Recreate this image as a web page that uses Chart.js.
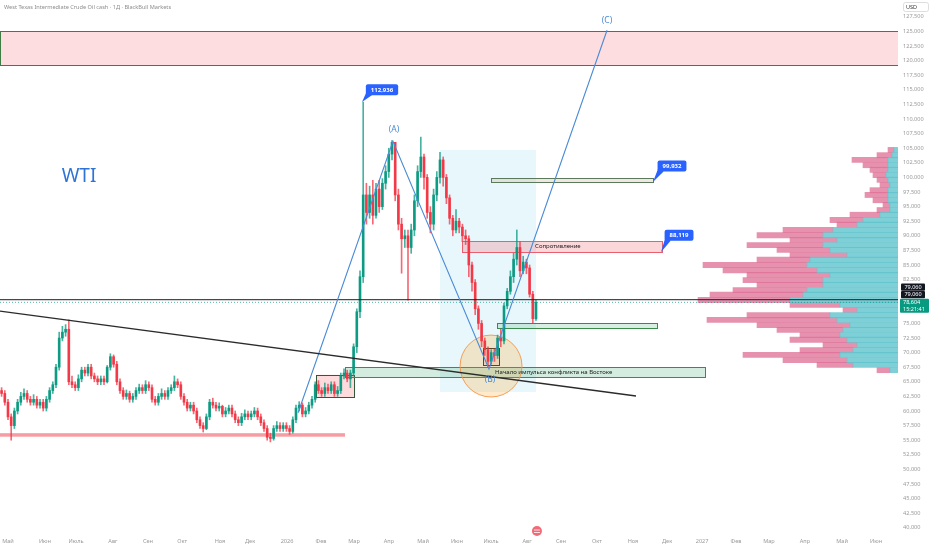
<!DOCTYPE html>
<html>
<head>
<meta charset="utf-8">
<script src="https://cdn.jsdelivr.net/npm/chart.js@4.4.1/dist/chart.umd.min.js"></script>
<style>
  html, body { margin: 0; padding: 0; background: #fff; }
  #wrap { position: relative; width: 932px; height: 550px; }
</style>
</head>
<body>
<div id="wrap"><canvas id="c"></canvas></div>
<script>
// x unit = trading-day bar index, candles every 2 bars
const monthLabels = ['Май','Июн','Июль','Авг','Сен','Окт','Ноя','Дек','2026','Фев','Мар','Апр','Май','Июн','Июль','Авг','Сен','Окт','Ноя','Дек','2027','Фев','Мар','Апр','Май','Июн'];
const monthPos = [5,28.1,47.5,70.6,92.5,113.8,137.5,156.3,179.4,200.6,221.3,243.1,264.4,285.6,306.9,329.4,350.6,373.1,395.6,416.9,438.8,460,480.6,503.1,526.3,547.5];
const yTicks = [40,42.5,45,47.5,50,52.5,55,57.5,60,62.5,65,67.5,70,72.5,75,82.5,85,87.5,90,92.5,95,97.5,100,102.5,105,107.5,110,112.5,115,117.5,120,122.5,125,127.5];

const firstOpen = 63.5;
const closes = [63,61.5,59,57.5,60,61.5,62.5,63,62,61.5, 62,61,61.5,60.5,62,63.5,64.5,67.5,72.5,73.5,
  74,65,64.5,64,65.5,67,66.5,67.5,66,65.5, 65,65.5,65,67.5,69.3,68,65,63.5,62.5,63,
  62,62.5,63.5,64,63.5,64.5,64,62,61.5,62.5, 63,62.5,63.5,64,65,64.5,62.5,61.5,60.5,61,
  60,58.5,57.5,57,59,61.5,61,60.5,60.8,59.5, 60,60.5,59.5,58.5,58,59,59.5,59,59.5,60,
  59,58,57,55.5,55.3,57,57.5,57,57.5,57, 56.5,58.5,60.5,61,59.5,60,61,62,64.5,63.5,
  63,64,63.5,64.5,63,63.5,66,66.5,65.5,66.5, 71,77,83,97,94,97,93.5,98,95,99,
  101,104,106,97,92,89.5,90,88,91,96, 101,103.5,100,94,92,97,100,103,100,96.5,
  93,91,92.5,91.5,90,89.5,85,82,77.5,75, 72,70.5,68.5,70,69.5,72.5,72,78,80.5,83,
  86,88,84,85.5,84.5,80,75.8,78.6];
const highs = [64,63.5,62,59.5,60.5,62,63.2,63.8,63.5,62.5, 62.8,62.5,62,62,62.5,64,65,68,73.5,74.5,
  74.8,75.6,66,65,66.2,67.5,67.5,68,68,66.5, 66,66,66,67.8,69.8,69.6,68.5,65.5,64,63.6,
  63.4,63,64,64.6,64.5,65.2,65,64.5,62.5,63, 63.8,63.5,64,64.5,66,65.5,65,63,62,61.5,
  61.5,60.5,59,58,59.5,62,62.2,61.5,61.4,61, 60.6,61,61,60,59,59.6,60.2,60,60,60.6,
  60.5,59.5,58.5,57.5,56.2,57.5,58.2,58,58,58, 57.5,59,61,61.6,61.4,60.6,61.5,62.5,65,65.2,
  64,64.8,64.6,65,65,64.2,66.5,67.2,67,67, 71.5,77.5,84,112.9,99,98.5,99.5,99,99.5,99.8,
  102,105,106.3,106,98,93,91,91,92,97, 102,106.9,104,100.5,95,98,101,104.3,103.5,100.5,
  97,93.5,94.5,93,92,91,90,85.5,82.5,78, 75.5,72.5,71,70.5,70.6,73,74,78.5,81,84,
  87,91,89,86.5,86,85,80.5,79];
const lows = [62.5,61,58.5,55,57,59.5,61,62,61.5,61, 61,60.5,60.5,60,60,61.5,63,64,67,72,
  72.8,64.5,64,63.5,63.5,65,66,66,65.5,65, 64.5,64.5,64.5,64.8,67,67.5,64.5,63,62,62,
  61.5,61.5,62,63,63,63,63.5,61.5,61,61, 62,62,62,63,63.5,64,62,61,60,60,
  59.5,58,57,56.4,56.8,58.5,60.5,60,60,59, 59,59.5,59,58,57.5,57.5,58.5,58.5,58.5,59,
  58.5,57.5,56.5,55,54.7,55,56.5,56.5,56.5,56.5, 56,56.2,58,60,59,59,59.5,60.5,61.5,63,
  62.5,62.5,63,63,62.5,62.5,63,65.5,65,64, 66,70,76,82,92,93,92,93,94,94.5,
  98,100,103,96,91,83.6,88,79,87,90, 95,100,98,93,90.5,91,96,99,98.5,95.5,
  92,90,90.5,90.5,89,88.5,83,80.5,76.5,74, 71,69.5,67.4,68,68.5,69,71,71.5,77.5,80,
  82,85,83,83.5,83.5,79.5,75,75.5];

// visible-range volume profile rows
const vpPrice = [104.7,103.8,103.0,102.1,101.3,100.4,99.6,98.7,97.8,97.0,96.1,95.3,94.4,93.6,92.7,91.9,91.0,90.1,89.3,88.4,87.6,86.7,85.9,85.0,84.1,83.3,82.4,81.6,80.7,79.9,79.0,78.2,77.3,76.4,75.6,74.7,73.9,73.0,72.2,71.3,70.4,69.6,68.7,67.9,67.0];
const vpUp = [4,6,10,10,10,12,10,8,10,10,10,8,8,18,35,41,65,75,61,75,68,51,88,91,81,68,75,75,91,95,108,58,41,68,61,48,55,58,51,41,45,58,51,45,8];
const vpTotal = [10,21,46,35,28,25,21,18,28,33,25,15,21,48,68,61,115,141,108,151,121,108,141,195,175,151,155,141,165,188,200,108,55,151,191,141,121,98,108,75,98,155,115,81,21];

const trendLine = [{x:0, y:77.1}, {x:397.5, y:62.57}];
const wavePts = [{x:186.3, y:59.7}, {x:245.6, y:106.2}, {x:305.6, y:67.2}, {x:379.4, y:125.2}];
const linePrice = 79.06;
const lastPrice = 78.604;
const X_MAX = 561.25;

const boxes = [
  {x0:0, x1:X_MAX, y0:119.1, y1:125.0, fill:'rgba(242,54,69,0.17)', stroke:'#3f7d46'},
  {x0:275, x1:335, y0:63.25, y1:104.7, fill:'rgba(0,170,220,0.09)'},
  {x0:0, x1:215.6, y0:55.6, y1:56.2, fill:'rgba(240,90,100,0.6)'},
  {x0:197.5, x1:221.25, y0:62.4, y1:66.2, fill:'rgba(242,54,69,0.18)', stroke:'#34573a'},
  {x0:215.6, x1:440.6, y0:65.8, y1:67.5, fill:'rgba(60,170,110,0.22)', stroke:'#3d8b4a', text:'Начало импульса конфликта на Востоке', tx:309.4},
  {x0:310.6, x1:410.6, y0:74.2, y1:75.07, fill:'rgba(60,170,110,0.2)', stroke:'#3d8b4a'},
  {x0:288.75, x1:413.75, y0:87.2, y1:89.1, fill:'rgba(242,54,69,0.2)', stroke:'#e8606e', text:'Сопротивление', tx:334.4},
  {x0:306.9, x1:408.1, y0:99.2, y1:99.9, fill:'rgba(190,140,120,0.22)', stroke:'#5b7a5b'},
  {x0:302, x1:312, y0:67.9, y1:70.8, fill:'rgba(242,54,69,0.12)', stroke:'#333'}
];
const circle = {x:306.9, y:67.7, r:5.3};
const texts = [
  {x:49.4, y:100.2, text:'WTI', size:19, color:'#2e74d6'},
  {x:246.3, y:108.2, text:'(A)', size:8.5, color:'#4a8bd6'},
  {x:306.3, y:65.3, text:'(B)', size:8.5, color:'#4a8bd6'},
  {x:379.4, y:126.8, text:'(C)', size:8.5, color:'#4a8bd6'}
];
const callouts = [
  {ax:226.25, ay:112.9, cx:238.75, cy:115.0, text:'112,936'},
  {ax:408.1, ay:99.2, cx:420, cy:101.95, text:'99,932'},
  {ax:413.1, ay:87.2, cx:424.4, cy:90.1, text:'88,119'}
];

const fmt = v => v.toFixed(3).replace('.', ',');
const candles = closes.map((c, i) => {
  const o = i === 0 ? firstOpen : closes[i - 1];
  return {x: 2 * i + 1, o, h: highs[i], l: lows[i], c};
});
const upCol = 'rgba(8,153,129,0.95)', dnCol = 'rgba(242,54,69,0.95)';
const upWick = 'rgba(8,153,129,0.75)', dnWick = 'rgba(242,54,69,0.75)';

function rrect(ctx, x, y, w, h, r) {
  ctx.beginPath();
  if (ctx.roundRect) ctx.roundRect(x, y, w, h, r); else ctx.rect(x, y, w, h);
}
// keep the axes from reserving label overhang around the plot
const noPad = s => { s.paddingLeft = 0; s.paddingRight = 0; s.paddingTop = 0; s.paddingBottom = 0; };

const annot = {
  id: 'annot',
  beforeDatasetsDraw(chart) {
    const ctx = chart.ctx, sx = chart.scales.x, sy = chart.scales.y, a = chart.chartArea;
    ctx.save();
    ctx.beginPath(); ctx.rect(a.left, a.top, a.right - a.left, a.bottom - a.top); ctx.clip();
    boxes.forEach(b => {
      const l = sx.getPixelForValue(b.x0), r = sx.getPixelForValue(b.x1);
      const t = sy.getPixelForValue(b.y1), bt = sy.getPixelForValue(b.y0);
      ctx.fillStyle = b.fill;
      ctx.fillRect(l, t, r - l, bt - t);
      if (b.stroke) {
        ctx.strokeStyle = b.stroke; ctx.lineWidth = 1;
        ctx.strokeRect(Math.round(l) + 0.5, Math.round(t) + 0.5, Math.round(r - l), Math.round(bt - t));
      }
    });
    const cx = sx.getPixelForValue(circle.x), cy = sy.getPixelForValue(circle.y);
    const r = Math.abs(sy.getPixelForValue(circle.y + circle.r) - cy);
    ctx.beginPath(); ctx.arc(cx, cy, r, 0, Math.PI * 2);
    ctx.fillStyle = 'rgba(255,152,0,0.2)'; ctx.fill();
    ctx.strokeStyle = 'rgba(245,150,70,0.9)'; ctx.lineWidth = 1; ctx.stroke();
    ctx.restore();
  },
  afterDatasetsDraw(chart) {
    const ctx = chart.ctx, sx = chart.scales.x, sy = chart.scales.y, a = chart.chartArea;
    ctx.save();
    ctx.textBaseline = 'middle';
    boxes.forEach(b => {
      if (!b.text) return;
      ctx.font = '6px "Noto Sans"'; ctx.fillStyle = '#222'; ctx.textAlign = 'left';
      ctx.fillText(b.text, sx.getPixelForValue(b.tx), sy.getPixelForValue((b.y0 + b.y1) / 2));
    });
    texts.forEach(t => {
      ctx.font = t.size + 'px "Noto Sans"'; ctx.fillStyle = t.color; ctx.textAlign = 'center';
      ctx.fillText(t.text, sx.getPixelForValue(t.x), sy.getPixelForValue(t.y));
    });
    callouts.forEach(c => {
      const ax = sx.getPixelForValue(c.ax), ay = sy.getPixelForValue(c.ay);
      const cx = sx.getPixelForValue(c.cx), cy = sy.getPixelForValue(c.cy);
      ctx.font = 'bold 6px "Noto Sans"';
      const w = ctx.measureText(c.text).width + 10, h = 11;
      const l = cx - w / 2, t = cy - h / 2;
      ctx.fillStyle = '#2962ff';
      ctx.beginPath(); ctx.moveTo(ax, ay); ctx.lineTo(l + 1, t + h - 4); ctx.lineTo(l + 6, t + h); ctx.closePath(); ctx.fill();
      rrect(ctx, l, t, w, h, 2); ctx.fill();
      ctx.fillStyle = '#fff'; ctx.textAlign = 'center';
      ctx.fillText(c.text, cx, cy + 0.5);
    });
    // title
    ctx.font = '5.6px "Noto Sans"'; ctx.fillStyle = '#8d8d8d'; ctx.textAlign = 'left';
    ctx.fillText('West Texas Intermediate Crude Oil cash · 1Д · BlackBull Markets', 4, 7);
    // event icon on the time axis
    const ix = sx.getPixelForValue(335.6), iy = a.bottom - 1;
    ctx.beginPath(); ctx.arc(ix, iy, 5, 0, Math.PI * 2); ctx.fillStyle = '#f26a78'; ctx.fill();
    ctx.strokeStyle = '#fff'; ctx.lineWidth = 0.8;
    ctx.beginPath(); ctx.moveTo(ix - 3, iy - 1); ctx.lineTo(ix + 3, iy - 1); ctx.moveTo(ix - 3, iy + 1.5); ctx.lineTo(ix + 3, iy + 1.5); ctx.stroke();
    // price labels on the axis
    const pl = sy.getPixelForValue(linePrice);
    ctx.font = '5.5px "Noto Sans"'; ctx.textAlign = 'center';
    [-12.5, -5].forEach(d => {
      ctx.fillStyle = '#131722'; rrect(ctx, 901, pl + d - 3.6, 24, 7.2, 1); ctx.fill();
      ctx.fillStyle = '#fff'; ctx.fillText(fmt(linePrice), 913, pl + d);
    });
    ctx.fillStyle = '#089981'; rrect(ctx, 900, pl - 1, 29, 14, 1); ctx.fill();
    ctx.fillStyle = '#fff'; ctx.textAlign = 'left';
    ctx.fillText(fmt(lastPrice), 903, pl + 2.6);
    ctx.fillText('15:21:41', 903, pl + 9.6);
    // currency tag
    ctx.strokeStyle = '#d6d6d6'; ctx.lineWidth = 0.8; rrect(ctx, 903.5, 2.5, 25, 9, 2); ctx.stroke();
    ctx.fillStyle = '#333'; ctx.font = '5.5px "Noto Sans"'; ctx.fillText('USD', 906, 7.2);
    ctx.restore();
  }
};

new Chart(document.getElementById('c'), {
  type: 'bar',
  data: {
    datasets: [
      {type:'line', data: trendLine, borderColor:'#2b2b2b', borderWidth:1.3, pointRadius:0, order:0},
      {type:'line', data: wavePts, borderColor:'#4a8bd6', borderWidth:1.1, pointRadius:0, order:0},
      {type:'line', data: [{x:0, y:linePrice}, {x:X_MAX, y:linePrice}], borderColor:'#1e1e1e', borderWidth:1, pointRadius:0, order:0},
      {type:'line', data: [{x:0, y:lastPrice}, {x:X_MAX, y:lastPrice}], borderColor:'rgba(8,153,129,0.7)', borderWidth:1, borderDash:[1,2], pointRadius:0, order:0},
      {data: candles.map(k => ({x:k.x, y:[k.o, k.c]})), backgroundColor: candles.map(k => k.c >= k.o ? upCol : dnCol),
        barThickness:2, minBarLength:1, grouped:false, order:1},
      {data: candles.map(k => ({x:k.x, y:[k.l, k.h]})), backgroundColor: candles.map(k => k.c >= k.o ? upWick : dnWick),
        barThickness:1, grouped:false, order:2},
      {indexAxis:'y', xAxisID:'xvp', data: vpPrice.map((p, i) => ({y:p, x:[0, vpUp[i]]})),
        backgroundColor:'rgba(95,195,205,0.8)', barThickness:5.2, grouped:false, order:3},
      {indexAxis:'y', xAxisID:'xvp', data: vpPrice.map((p, i) => ({y:p, x:[vpUp[i], vpTotal[i]]})),
        backgroundColor:'rgba(222,110,148,0.75)', barThickness:5.2, grouped:false, order:3}
    ]
  },
  options: {
    responsive: true, maintainAspectRatio: false, animation: false,
    layout: {padding: 0, autoPadding: false},
    plugins: {legend: {display:false}, tooltip: {enabled:false}},
    scales: {
      x: {
        type:'linear', position:'bottom', min:0, max:X_MAX, offset:false,
        grid:{display:false, drawTicks:false}, border:{display:false},
        ticks:{autoSkip:false, maxRotation:0, padding:6, color:'#9a9a9a', font:{size:5.6, family:'"Noto Sans"'},
          callback:(v, i) => monthLabels[i]},
        afterBuildTicks: s => { s.ticks = monthPos.map(v => ({value:v})); },
        afterFit: s => { s.height = 18; noPad(s); }
      },
      xvp: {
        type:'linear', position:'top', min:0, max:898, reverse:true, offset:false,
        grid:{display:false, drawTicks:false}, border:{display:false}, ticks:{display:false},
        afterFit: s => { s.height = 0; noPad(s); }
      },
      y: {
        type:'linear', position:'right', min:39.28, max:130.38, offset:false,
        grid:{display:false, drawTicks:false}, border:{display:false},
        ticks:{padding:5, color:'#9a9a9a', font:{size:5.6, family:'"Noto Sans"'}, callback: v => fmt(v)},
        afterBuildTicks: s => { s.ticks = yTicks.map(v => ({value:v})); },
        afterFit: s => { s.width = 34; noPad(s); }
      }
    }
  },
  plugins: [annot]
});
</script>
</body>
</html>
